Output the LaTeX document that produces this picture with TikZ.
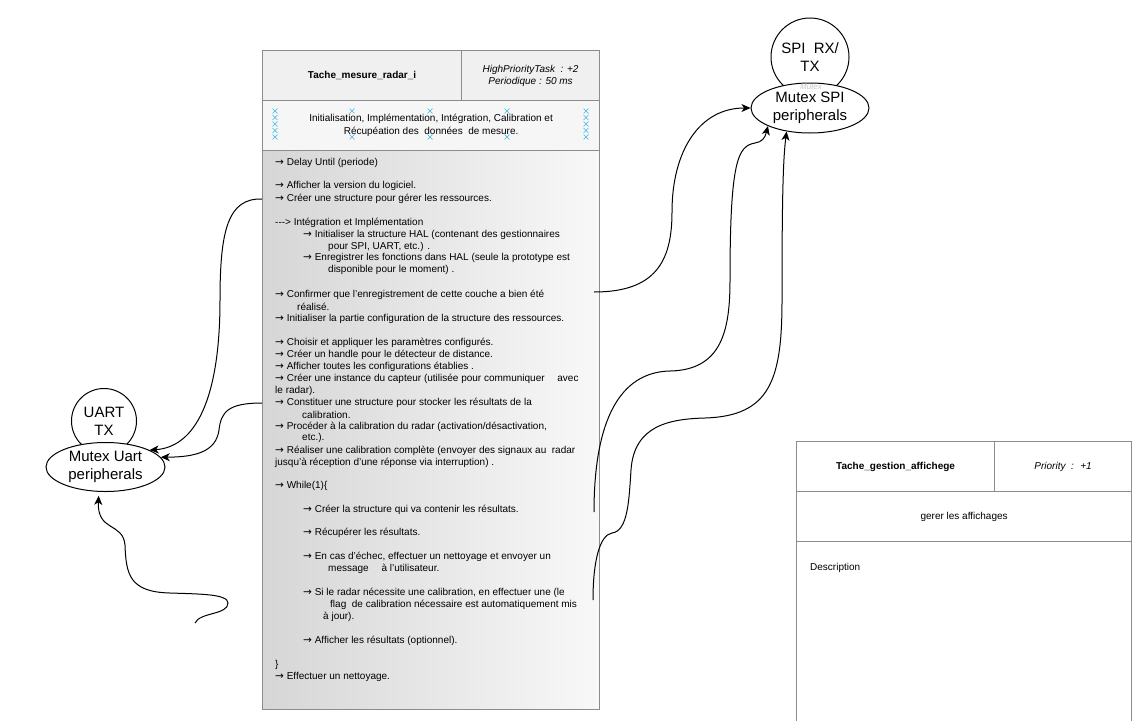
\documentclass[tikz,border=0pt]{standalone}
\usepackage{fontspec}
\setmainfont{Liberation Sans}
\newfontfamily\flechefont{DejaVu Sans}
\newcommand\fl{{\flechefont\fontsize{10.5}{10}\selectfont →}}
\usetikzlibrary{shapes.geometric,arrows.meta}
\definecolor{bord}{HTML}{8C8C8C}
\definecolor{entete}{HTML}{F0F0F0}
\definecolor{fondg}{HTML}{D6D6D6}
\definecolor{fondd}{HTML}{F8F8F8}
\definecolor{poignee}{HTML}{3FB8E8}

\begin{document}
\begin{tikzpicture}
  [x=1pt,y=-1pt,
   cadre/.style={draw=bord,line width=1.2pt,inner sep=0pt,anchor=north west,align=center,font=\fontsize{10}{13}\selectfont},
   ressource/.style={draw,line width=1pt,circle,fill=white,align=center,inner sep=0pt,font=\fontsize{15}{18}\selectfont},
   mutex/.style={draw,line width=1pt,ellipse,fill=white,align=center,inner sep=0pt,font=\fontsize{15}{18}\selectfont},
   lien/.style={line width=1pt,-{Stealth[length=9pt,width=8pt,inset=2.5pt]}},
   ligne/.style={anchor=west,inner sep=0pt,font=\fontsize{10}{12}\selectfont}]
  \useasboundingbox (0,0) rectangle (1147,720);
  \clip (0,0) rectangle (1147,720);

  % tache radar
  \node[cadre,fill=entete,minimum width=199,minimum height=50,font=\fontsize{10}{13}\bfseries] (titre) at (262,50) {Tache\_mesure\_radar\_i};
  \node[cadre,fill=entete,minimum width=138,minimum height=50,font=\fontsize{10}{12}\itshape] (prio) at (461,50) {HighPriorityTask \ : +2\\Periodique : 50 ms};
  \node[cadre,fill=entete!60!white,minimum width=337,minimum height=50] (role) at (262,100) {Initialisation, Implémentation, Intégration, Calibration et\\Récupéation des \ données \ de mesure.};
  \node[cadre,left color=fondg,right color=fondd,minimum width=337,minimum height=559] (corps) at (262,150) {};

  \foreach \hx in {275,586}
    \foreach \hy in {111,117.5,124,130.5,137}
      \draw[poignee,line width=0.6pt] (\hx-2.5,\hy-2.5) -- ++(5,5) ++(-5,0) -- ++(5,-5);
  \foreach \hx in {352,430,507}
    \foreach \hy in {111,137}
      \draw[poignee,line width=0.6pt] (\hx-2.5,\hy-2.5) -- ++(5,5) ++(-5,0) -- ++(5,-5);

  \foreach \lx/\ly/\lt [count=\i] in {
      275/163/{\fl{} Delay Until (periode)},
      275/186/{\fl{} Afficher la version du logiciel.},
      275/199/{\fl{} Créer une structure pour gérer les ressources.},
      275/223/{-{}-{}-> Intégration et Implémentation},
      303/235/{\fl{} Initialiser la structure HAL (contenant des gestionnaires},
      328/247/{pour SPI, UART, etc.) .},
      303/258/{\fl{} Enregistrer les fonctions dans HAL (seule la prototype est},
      328/270/{disponible pour le moment) .},
      275/295/{\fl{} Confirmer que l'enregistrement de cette couche a bien été},
      297/307/{réalisé.},
      275/319/{\fl{} Initialiser la partie configuration de la structure des ressources.},
      275/343/{\fl{} Choisir et appliquer les paramètres configurés.},
      275/355/{\fl{} Créer un handle pour le détecteur de distance.},
      275/367/{\fl{} Afficher toutes les configurations établies .},
      275/379/{\fl{} Créer une instance du capteur (utilisée pour communiquer \quad avec},
      275/391/{le radar).},
      275/403/{\fl{} Constituer une structure pour stocker les résultats de la},
      302/415/{calibration.},
      275/427/{\fl{} Procéder à la calibration du radar (activation/désactivation,},
      302/438/{etc.).},
      275/451/{\fl{} Réaliser une calibration complète (envoyer des signaux au \ radar},
      275/463/{jusqu'à réception d'une réponse via interruption) .},
      275/486/{\fl{} While(1)\{},
      303/510/{\fl{} Créer la structure qui va contenir les résultats.},
      303/533/{\fl{} Récupérer les résultats.},
      303/557/{\fl{} En cas d'échec, effectuer un nettoyage et envoyer un},
      328/569/{message \quad à l'utilisateur.},
      303/593/{\fl{} Si le radar nécessite une calibration, en effectuer une (le},
      330/605/{flag \ de calibration nécessaire est automatiquement mis},
      323/617/{à jour).},
      303/641/{\fl{} Afficher les résultats (optionnel).},
      275/665/{\}},
      275/677/{\fl{} Effectuer un nettoyage.}}
    \node[ligne] (l\i) at (\lx,\ly) {\lt};

  % tache affichage
  \node[cadre,fill=white,minimum width=198,minimum height=50,font=\fontsize{10}{13}\bfseries] (titre2) at (796,441) {Tache\_gestion\_affichege};
  \node[cadre,fill=white,minimum width=137,minimum height=50,font=\fontsize{10}{13}\itshape] (prio2) at (994,441) {Priority \ : \ +1};
  \node[cadre,fill=white,minimum width=335,minimum height=50] (role2) at (796,491) {gerer les affichages};
  \node[cadre,fill=white,minimum width=335,minimum height=195] (desc2) at (796,541) {};
  \node[ligne] (desctxt) at (810,568) {Description};

  % ressources
  \node[ressource,minimum size=65] (uartTx) at (104,421) {UART\\TX};
  \node[mutex,minimum width=119,minimum height=49] (uart) at (105.5,467) {Mutex Uart\\peripherals};
  \node[ressource,minimum size=78] (spiTx) at (810,57) {SPI \ RX/\\TX};
  \node[mutex,minimum width=118,minimum height=50] (spi) at (810,108) {Mutex SPI\\peripherals};
  \node[font=\fontsize{8}{8}\itshape,text=gray!45,inner sep=0pt] (etiq) at (811,87) {Mutex};

  \coordinate (libre) at (195,623);
  \coordinate (dep1) at (594,292);
  \coordinate (dep2) at (594,512);
  \coordinate (dep3) at (593,600);

  \draw[lien] (l3.west -| corps.west) .. controls (228,198) and (220,230) .. (220,300) .. controls (220,400) and (195,447) .. (uart.21);
  \draw[lien] (l17.west -| corps.west) .. controls (228,403) and (221,412) .. (219,430) .. controls (216,452) and (195,457) .. (uart.10);
  \draw[lien,shorten >=4pt] (libre) .. controls (200,612) and (228,615) .. (228,603) .. controls (228,594) and (200,594) .. (170,593) .. controls (130,592) and (126,575) .. (125,545) .. controls (123,522) and (97,532) .. (uart.255);
  \draw[lien] (dep1) .. controls (655,292) and (672,262) .. (672,212) .. controls (672,150) and (700,108) .. (spi.west);
  \draw[lien] (dep2) .. controls (594,420) and (620,372) .. (670,371) .. controls (722,370) and (730,330) .. (730,280) .. controls (730,160) and (738,146) .. (755,143) .. controls (762,142) and (765,138) .. (spi.south west);
  \draw[lien] (dep3) .. controls (593,560) and (600,535) .. (612,533) .. controls (628,531) and (629,500) .. (631,470) .. controls (634,425) and (670,419) .. (705,418) .. controls (770,416) and (782,380) .. (782,300) .. controls (782,200) and (783,160) .. (spi.225);
\end{tikzpicture}
\end{document}
